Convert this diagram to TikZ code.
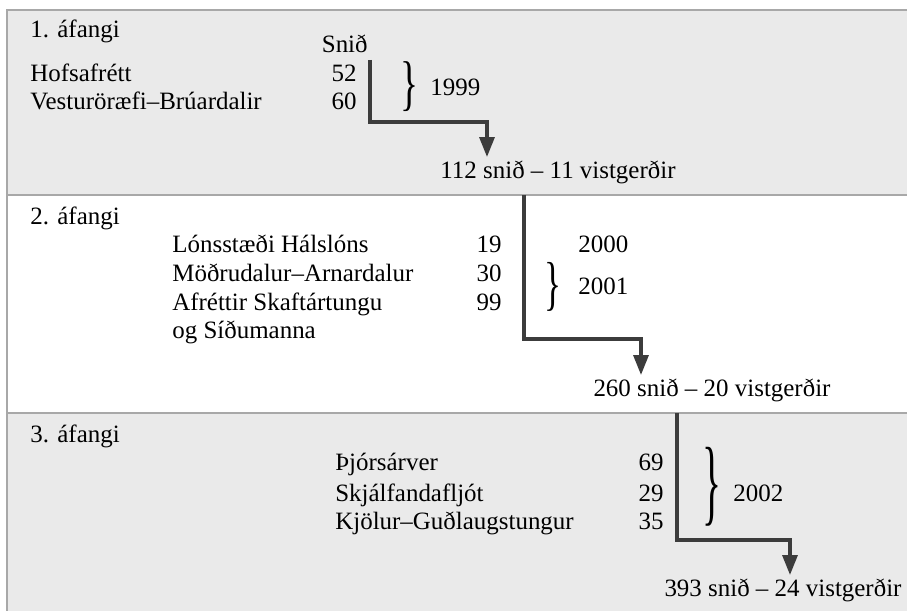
\documentclass[tikz,border=0pt]{standalone}
\usepackage{fontspec}
\setmainfont{Liberation Serif}
\usetikzlibrary{arrows.meta}

\definecolor{bandgray}{HTML}{EAEAEA}
\definecolor{rulegray}{HTML}{A8A8A8}
\definecolor{flowgray}{HTML}{3C3C3C}
\newcommand{\yearbrace}[2]{\resizebox*{#1}{#2}{\}}}

\begin{document}
\begin{tikzpicture}[
    x=0.02cm, y=-0.02cm,
    font=\fontsize{14.2}{17}\selectfont,
    bandfill/.style={fill=bandgray},
    divline/.style={draw=rulegray,line width=0.03cm},
    site/.style={anchor=base west,inner sep=0pt},
    snum/.style={anchor=base east,inner sep=0pt},
    year/.style={anchor=base west,inner sep=0pt},
    brc/.style={inner sep=0pt},
    res/.style={anchor=north,inner xsep=0pt,inner ysep=5pt,text height=0.72em},
    flow/.style={draw=flowgray,line width=0.065cm,-{Triangle[width=0.3cm,length=0.4cm]}},
  ]

  \useasboundingbox (0,0) rectangle (907,611);
  \clip (0,0) rectangle (907,611);

  \fill[bandfill] (7,10) rectangle (920,195);
  \fill[bandfill] (7,413) rectangle (920,620);
  \draw[divline] (920,10) -- (7,10) -- (7,620);
  \draw[divline] (7,195) -- (920,195);
  \draw[divline] (7,413) -- (920,413);

  % 1. afangi
  \node (st-1) at (30,38) [site] {1. áfangi};
  \node (snid) at (368,53) [snum] {Snið};
  \foreach \t/\n/\y [count=\i] in {Hofsafrétt/52/82, Vesturöræfi–Brúardalir/60/110}
  {
    \node (s-1-\i) at (30,\y) [site] {\t};
    \node (n-1-\i) at (357,\y) [snum] {\n};
  }
  \node (b-1) at (409,87) [brc] {\yearbrace{0.36cm}{1cm}};
  \node (y-1) at (430,96) [year] {1999};

  \coordinate (a-1) at (370,60);
  \coordinate (k-1) at (487,122);
  \node (r-1) at (558,157) [res] {112 snið – 11 vistgerðir};
  \draw[flow] (a-1) |- (k-1) -- (k-1 |- r-1.north);

  % 2. afangi
  \node (st-2) at (30,225) [site] {2. áfangi};
  \foreach \t/\n/\y [count=\i] in {Lónsstæði Hálslóns/19/253, Möðrudalur–Arnardalur/30/282, Afréttir Skaftártungu/99/311}
  {
    \node (s-2-\i) at (172,\y) [site] {\t};
    \node (n-2-\i) at (502,\y) [snum] {\n};
  }
  \node (s-2-4) at (172,339) [site] {og Síðumanna};
  \node (y-2a) at (578,253) [year] {2000};
  \node (b-2) at (553,287) [brc] {\yearbrace{0.34cm}{0.98cm}};
  \node (y-2b) at (578,295) [year] {2001};

  \coordinate (a-2) at (524,195);
  \coordinate (k-2) at (641,339);
  \node (r-2) at (712,375) [res] {260 snið – 20 vistgerðir};
  \draw[flow] (a-2) |- (k-2) -- (k-2 |- r-2.north);

  % 3. afangi
  \node (st-3) at (30,442) [site] {3. áfangi};
  \foreach \t/\n/\y [count=\i] in {Þjórsárver/69/471, Skjálfandafljót/29/501, Kjölur–Guðlaugstungur/35/529}
  {
    \node (s-3-\i) at (335,\y) [site] {\t};
    \node (n-3-\i) at (664,\y) [snum] {\n};
  }
  \node (b-3) at (712,487) [brc] {\yearbrace{0.38cm}{1.58cm}};
  \node (y-3) at (733,501) [year] {2002};

  \coordinate (a-3) at (677,413);
  \coordinate (k-3) at (790,540);
  \node (r-3) at (783,575) [res] {393 snið – 24 vistgerðir};
  \draw[flow] (a-3) |- (k-3) -- (k-3 |- r-3.north);

\end{tikzpicture}
\end{document}
